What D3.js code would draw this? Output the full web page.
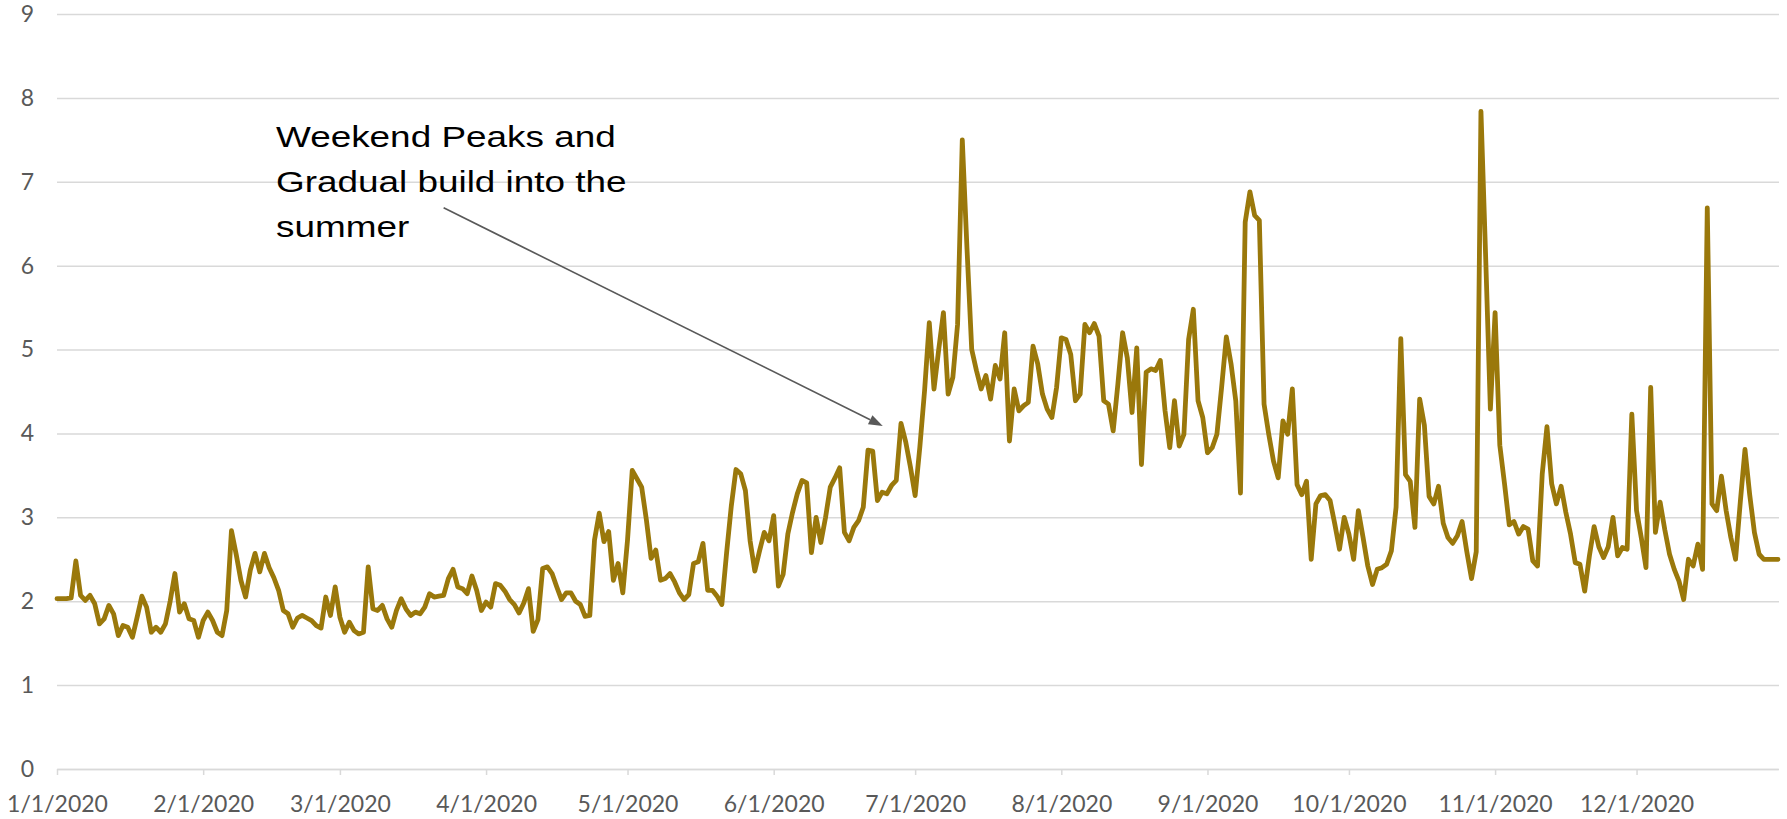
<!DOCTYPE html>
<html>
<head>
<meta charset="utf-8">
<script src="https://cdn.jsdelivr.net/npm/d3@7"></script>
<style>
  html, body { margin: 0; padding: 0; background: #ffffff; }
  svg { display: block; }
</style>
</head>
<body>
<script>
// ---- Data (daily values, 2020) ----
const jan = [2.03,2.03,2.03,2.04,2.48,2.07,2.01,2.07,1.97,1.73, 1.79,1.95,1.85,1.59,1.71,1.69,1.57,1.81,2.06,1.93, 1.63,1.69,1.63,1.73,2.00,2.33,1.87,1.97,1.79,1.77, 1.57];
const feb = [1.77,1.87,1.77,1.63,1.59,1.89,2.84,2.56,2.25,2.05, 2.37,2.57,2.35,2.57,2.40,2.28,2.13,1.89,1.85,1.69, 1.80,1.83,1.80,1.77,1.71,1.68,2.05,1.83,2.17];
const mar = [1.81,1.63,1.75,1.65,1.61,1.63,2.41,1.91,1.89,1.95, 1.79,1.69,1.89,2.03,1.91,1.83,1.87,1.85,1.93,2.09, 2.05,2.06,2.07,2.27,2.38,2.17,2.15,2.09,2.30,2.13, 1.89];
const apr = [1.99,1.93,2.21,2.19,2.12,2.02,1.96,1.86,1.98,2.15, 1.64,1.78,2.39,2.41,2.33,2.17,2.02,2.10,2.10,2.00, 1.96,1.82,1.83,2.73,3.05,2.71,2.83,2.25,2.45,2.10];
const may = [2.73,3.56,3.46,3.36,2.97,2.51,2.61,2.25,2.27,2.33, 2.23,2.10,2.02,2.08,2.45,2.47,2.69,2.13,2.13,2.06, 1.96,2.57,3.13,3.57,3.52,3.32,2.72,2.36,2.60,2.82, 2.72];
const jun = [3.02,2.18,2.32,2.80,3.06,3.28,3.44,3.41,2.58,3.00, 2.70,3.00,3.36,3.47,3.59,2.82,2.72,2.88,2.96,3.12, 3.80,3.79,3.20,3.30,3.28,3.38,3.44,4.12,3.90,3.60];
const jul = [3.26,3.84,4.51,5.32,4.53,5.00,5.44,4.47,4.67,5.30, 7.50,6.20,5.00,4.75,4.53,4.69,4.41,4.81,4.65,5.20, 3.91,4.53,4.27,4.33,4.37,5.04,4.83,4.47,4.29,4.19, 4.55];
const aug = [5.14,5.12,4.94,4.39,4.47,5.30,5.20,5.31,5.16,4.39, 4.35,4.03,4.59,5.20,4.90,4.25,5.02,3.63,4.73,4.77, 4.75,4.87,4.27,3.83,4.39,3.85,3.99,5.12,5.48,4.39, 4.19];
const sep = [3.77,3.83,3.99,4.55,5.15,4.83,4.39,3.29,6.52,6.88, 6.60,6.54,4.35,3.99,3.67,3.47,4.15,3.99,4.53,3.39, 3.27,3.43,2.50,3.16,3.26,3.27,3.20,2.92,2.62,3.00];
const oct = [2.80,2.50,3.08,2.76,2.42,2.20,2.38,2.40,2.44,2.60, 3.12,5.13,3.51,3.43,2.88,4.41,4.10,3.25,3.16,3.37, 2.93,2.76,2.69,2.78,2.95,2.59,2.27,2.59,7.84,6.10, 4.29];
const nov = [5.44,3.86,3.40,2.91,2.95,2.80,2.89,2.86,2.48,2.42, 3.52,4.08,3.40,3.16,3.37,3.06,2.80,2.46,2.44,2.12, 2.54,2.89,2.65,2.52,2.65,3.00,2.54,2.64,2.62,4.23];
const dec = [3.08,2.76,2.40,4.55,2.82,3.18,2.85,2.56,2.38,2.24, 2.02,2.50,2.42,2.68,2.38,6.69,3.16,3.08,3.49,3.08, 2.76,2.50,3.18,3.81,3.27,2.82,2.56,2.50,2.50,2.50, 2.50];

const xTickLabels = ["1/1/2020","2/1/2020","3/1/2020","4/1/2020","5/1/2020","6/1/2020","7/1/2020","8/1/2020","9/1/2020","10/1/2020","11/1/2020","12/1/2020"];
const yTickValues = [0,1,2,3,4,5,6,7,8,9];
const annotationLines = ["Weekend Peaks and", "Gradual build into the", "summer"];

// ---- Build ----
const W = 1787, H = 819;
const startMs = Date.UTC(2020, 0, 1);
const values = [].concat(jan, feb, mar, apr, may, jun, jul, aug, sep, oct, nov, dec);
const data = values.map((v, i) => ({ date: new Date(startMs + i * 864e5), v }));

const plotLeft = 57, plotRight = 1778, plotTop = 14, plotBottom = 769;

const x = d3.scaleUtc()
  .domain([data[0].date, data[data.length - 1].date])
  .range([plotLeft, plotRight]);
const y = d3.scaleLinear().domain([0, 9]).range([plotBottom, plotTop]);

const svg = d3.select("body").append("svg")
  .attr("width", W).attr("height", H)
  .attr("viewBox", `0 0 ${W} ${H}`);
svg.append("rect").attr("width", W).attr("height", H).attr("fill", "#ffffff");

const labelFont = "Lato, 'Open Sans', sans-serif";

// Y gridlines + labels
svg.append("g")
  .attr("transform", `translate(${plotLeft},0)`)
  .call(d3.axisLeft(y).tickValues(yTickValues).tickSize(-(plotRight + 1 - plotLeft)).tickPadding(23).tickFormat(d3.format("d")))
  .call(g => g.select(".domain").remove())
  .call(g => g.selectAll(".tick line").attr("stroke", "#d9d9d9").attr("stroke-width", 1.5))
  .call(g => g.selectAll(".tick text")
    .attr("fill", "#595959")
    .style("font-family", labelFont)
    .style("font-size", "23px"));

// X axis
const monthStarts = d3.utcMonths(new Date(startMs), new Date(Date.UTC(2020, 11, 2)));
svg.append("g")
  .attr("transform", `translate(0,${plotBottom})`)
  .call(d3.axisBottom(x).tickValues(monthStarts).tickSize(6).tickSizeOuter(0).tickPadding(21)
    .tickFormat((d, i) => xTickLabels[i]))
  .call(g => g.select(".domain").attr("stroke", "#d9d9d9").attr("stroke-width", 1.5))
  .call(g => g.selectAll(".tick line").attr("stroke", "#d9d9d9").attr("stroke-width", 1.5))
  .call(g => g.selectAll(".tick text")
    .attr("fill", "#595959")
    .style("font-family", labelFont)
    .style("font-size", "23px"));

// Series line
const line = d3.line().x(d => x(d.date)).y(d => y(d.v));
svg.append("path")
  .datum(data)
  .attr("fill", "none")
  .attr("stroke", "#9a780b")
  .attr("stroke-width", 4.8)
  .attr("stroke-linejoin", "round")
  .attr("stroke-linecap", "round")
  .attr("d", line);

// Annotation (anchored in data space)
const arrowFrom = { date: new Date(Date.UTC(2020, 2, 23)), v: 6.69 };
const arrowTo = { date: new Date(Date.UTC(2020, 5, 24, 3)), v: 4.09 };
const x1 = x(arrowFrom.date), y1 = y(arrowFrom.v);
const x2 = x(arrowTo.date), y2 = y(arrowTo.v);
const ang = Math.atan2(y2 - y1, x2 - x1);
const headLen = 14, headHalf = 5;
const bx = x2 - headLen * Math.cos(ang), by = y2 - headLen * Math.sin(ang);
svg.append("line")
  .attr("x1", x1).attr("y1", y1).attr("x2", bx).attr("y2", by)
  .attr("stroke", "#595959").attr("stroke-width", 1.6);
svg.append("path")
  .attr("d", `M${x2},${y2} L${bx + headHalf * Math.sin(ang)},${by - headHalf * Math.cos(ang)} L${bx - headHalf * Math.sin(ang)},${by + headHalf * Math.cos(ang)} Z`)
  .attr("fill", "#595959");

const annoX = 276, annoY0 = 147, annoLH = 45;
const anno = svg.append("g").attr("transform", `translate(${annoX},0) scale(1.23,1)`);
anno.selectAll("text")
  .data(annotationLines)
  .join("text")
  .attr("x", 0)
  .attr("y", (d, i) => annoY0 + i * annoLH)
  .attr("fill", "#000000")
  .style("font-family", "'Liberation Sans', Arial, sans-serif")
  .style("font-size", "30px")
  .text(d => d);
</script>
</body>
</html>
